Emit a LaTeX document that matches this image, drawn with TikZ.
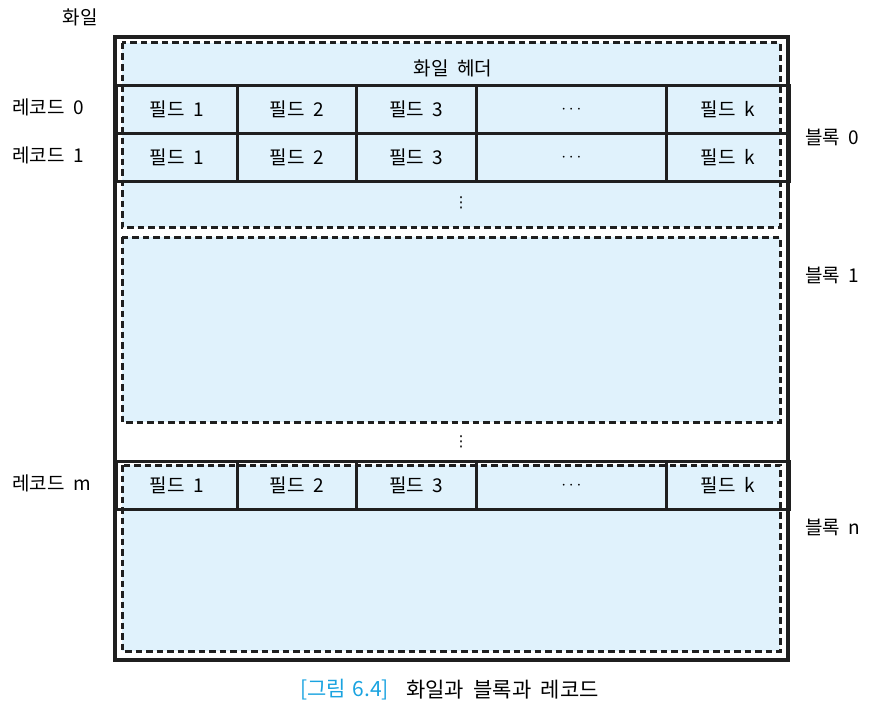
\documentclass[tikz,border=0pt]{standalone}
\usepackage{fontspec}
\usepackage{tikz}
\newfontfamily\kr[WordSpace=2]{Noto Sans CJK KR}
\newfontfamily\symfont{DejaVu Sans}
\definecolor{blockblue}{HTML}{E0F2FC}
\definecolor{capblue}{HTML}{1AA3E0}

\begin{document}
\begin{tikzpicture}[x=1pt, y=-1pt,
    lbl/.style={font=\kr\fontsize{19}{22}\selectfont, inner sep=0pt},
    cell/.style={lbl, draw=black!88, line width=2.7pt, minimum height=48pt, anchor=north west},
    blok/.style={draw=black!88, fill=blockblue, line width=3pt, dash pattern=on 6.5pt off 4pt}]
    \useasboundingbox (0,0) rectangle (874,709);
    % blocks 0, 1, n
    \draw[blok] (122,43) rectangle (780,227);
    \draw[blok] (122,237) rectangle (780,422);
    \draw[blok] (122,465) rectangle (780,651);
    \node[lbl] (hdr) at (453,68) {화일 헤더};
    % records 0, 1, m
    \foreach \r/\y in {0/84, 1/132, m/460}{
        \foreach \i/\x/\w/\t in {1/115/121/필드 1, 2/236/119/필드 2, 3/355/120/필드 3, 4/475/190/$\cdots$, 5/665/123/필드 k}
            \node[cell, minimum width=\w pt] (r\r c\i) at (\x,\y) {\t};
        \node[lbl, anchor=west] (rec\r) at (12,\y+23) {레코드 \r};
    }
    \node[lbl, font=\symfont\fontsize{15}{18}\selectfont] (dots0) at (461,203) {⋮};
    \node[lbl, font=\symfont\fontsize{15}{18}\selectfont] (dots1) at (461,442) {⋮};
    % file
    \draw[line width=3.5pt, draw=black!88] (115,37) rectangle (788,660);
    \node[lbl] (file) at (80,17) {화일};
    \node[lbl, anchor=west] (blk0) at (805,137) {블록 0};
    \node[lbl, anchor=west] (blk1) at (805,275) {블록 1};
    \node[lbl, anchor=west] (blkn) at (805,527) {블록 n};
    \node[lbl, anchor=east, text=capblue, font=\kr\fontsize{21}{24}\selectfont] (capnum) at (389,690) {[그림\kern0.3em6.4]};
    \node[lbl, anchor=west, font=\kr\fontsize{21}{24}\selectfont] (captxt) at (406,690) {화일과 블록과 레코드};
\end{tikzpicture}
\end{document}
